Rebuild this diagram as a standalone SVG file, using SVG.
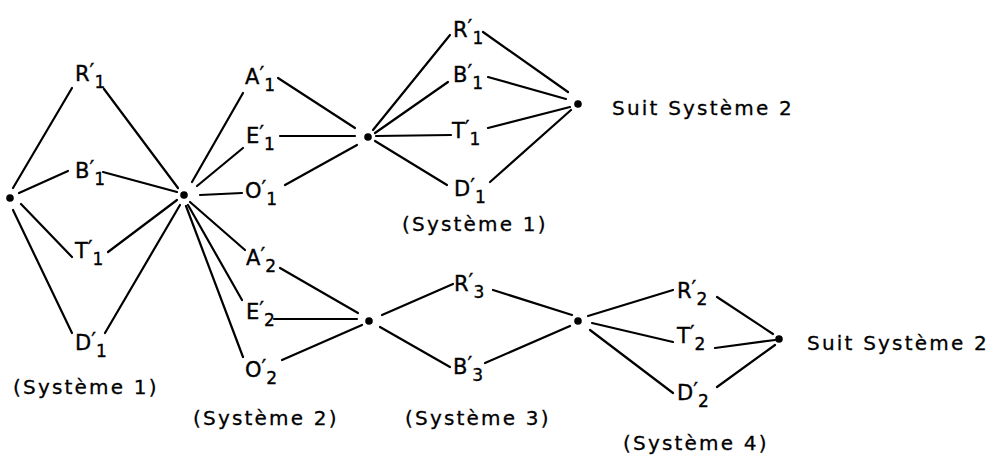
<svg xmlns="http://www.w3.org/2000/svg" width="997" height="461" viewBox="0 0 997 461">
<style>
  .bg{fill:#ffffff}
  .e{stroke:#000;stroke-width:2.2;stroke-linecap:round;fill:none}
  .d{fill:#000}
  .lb{font-family:"DejaVu Sans","Liberation Sans",sans-serif;font-size:21px;fill:#000;stroke:#000;stroke-width:0.35}
  .sb{font-size:17px}
  .cap{font-family:"DejaVu Sans","Liberation Sans",sans-serif;font-size:20px;letter-spacing:2.2px;fill:#000;stroke:#000;stroke-width:0.3}
</style>
<rect class="bg" x="0" y="0" width="997" height="461"/>
<g id="connectors">
  <line class="e" x1="13" y1="188" x2="72" y2="88"/>
  <line class="e" x1="19" y1="193" x2="68" y2="171"/>
  <line class="e" x1="21" y1="204" x2="72" y2="257"/>
  <line class="e" x1="13" y1="210" x2="72" y2="333"/>
  <line class="e" x1="104" y1="89" x2="178" y2="188"/>
  <line class="e" x1="103" y1="172" x2="177" y2="192"/>
  <line class="e" x1="108" y1="252" x2="177" y2="200"/>
  <line class="e" x1="105" y1="333" x2="180" y2="205"/>
  <line class="e" x1="192" y1="182" x2="243" y2="93"/>
  <line class="e" x1="197" y1="186" x2="243" y2="148"/>
  <line class="e" x1="200" y1="195" x2="242" y2="193"/>
  <line class="e" x1="278" y1="78" x2="355" y2="128"/>
  <line class="e" x1="280" y1="136" x2="355" y2="136"/>
  <line class="e" x1="285" y1="185" x2="357" y2="145"/>
  <line class="e" x1="190" y1="202" x2="245" y2="250"/>
  <line class="e" x1="188" y1="205" x2="242" y2="300"/>
  <line class="e" x1="186" y1="206" x2="243" y2="357"/>
  <line class="e" x1="280" y1="268" x2="358" y2="313"/>
  <line class="e" x1="274" y1="319" x2="357" y2="319"/>
  <line class="e" x1="282" y1="360" x2="362" y2="325"/>
  <line class="e" x1="373" y1="130" x2="450" y2="35"/>
  <line class="e" x1="375" y1="133" x2="448" y2="82"/>
  <line class="e" x1="376" y1="136" x2="451" y2="135"/>
  <line class="e" x1="375" y1="141" x2="447" y2="185"/>
  <line class="e" x1="483" y1="32" x2="568" y2="92"/>
  <line class="e" x1="488" y1="77" x2="566" y2="99"/>
  <line class="e" x1="488" y1="128" x2="570" y2="107"/>
  <line class="e" x1="490" y1="182" x2="571" y2="110"/>
  <line class="e" x1="382" y1="315" x2="453" y2="284"/>
  <line class="e" x1="380" y1="327" x2="450" y2="367"/>
  <line class="e" x1="493" y1="290" x2="572" y2="315"/>
  <line class="e" x1="485" y1="363" x2="570" y2="326"/>
  <line class="e" x1="588" y1="316" x2="673" y2="290"/>
  <line class="e" x1="592" y1="323" x2="673" y2="342"/>
  <line class="e" x1="590" y1="330" x2="673" y2="393"/>
  <line class="e" x1="717" y1="297" x2="773" y2="334"/>
  <line class="e" x1="715" y1="348" x2="775" y2="340"/>
  <line class="e" x1="717" y1="387" x2="775" y2="345"/>
</g>
<g id="dot0"><circle class="d" cx="10" cy="198" r="3.8"/></g>
<g id="dot1"><circle class="d" cx="184" cy="195" r="3.8"/></g>
<g id="dot2"><circle class="d" cx="368" cy="137" r="3.8"/></g>
<g id="dot3"><circle class="d" cx="578" cy="104" r="3.8"/></g>
<g id="dot4"><circle class="d" cx="369" cy="321" r="3.8"/></g>
<g id="dot5"><circle class="d" cx="578" cy="321" r="3.8"/></g>
<g id="dot6"><circle class="d" cx="779" cy="339" r="3.8"/></g>

<g id="s1-R1"><text class="lb" x="75" y="81">R<tspan dy="-2">′</tspan><tspan class="sb" dy="9">1</tspan></text></g>
<g id="s1-B1"><text class="lb" x="75" y="178">B<tspan dy="-2">′</tspan><tspan class="sb" dy="9">1</tspan></text></g>
<g id="s1-T1"><text class="lb" x="75" y="258">T<tspan dy="-2">′</tspan><tspan class="sb" dy="9">1</tspan></text></g>
<g id="s1-D1"><text class="lb" x="75" y="350">D<tspan dy="-2">′</tspan><tspan class="sb" dy="9">1</tspan></text></g>

<g id="s2-A1"><text class="lb" x="245" y="84">A<tspan dy="-2">′</tspan><tspan class="sb" dy="9">1</tspan></text></g>
<g id="s2-E1"><text class="lb" x="246" y="143">E<tspan dy="-2">′</tspan><tspan class="sb" dy="9">1</tspan></text></g>
<g id="s2-O1"><text class="lb" x="245" y="198">O<tspan dy="-2">′</tspan><tspan class="sb" dy="9">1</tspan></text></g>
<g id="s2-A2"><text class="lb" x="246" y="265">A<tspan dy="-2">′</tspan><tspan class="sb" dy="9">2</tspan></text></g>
<g id="s2-E2"><text class="lb" x="246" y="319">E<tspan dy="-2">′</tspan><tspan class="sb" dy="9">2</tspan></text></g>
<g id="s2-O2"><text class="lb" x="245" y="377">O<tspan dy="-2">′</tspan><tspan class="sb" dy="9">2</tspan></text></g>

<g id="t1-R1"><text class="lb" x="453" y="37">R<tspan dy="-2">′</tspan><tspan class="sb" dy="9">1</tspan></text></g>
<g id="t1-B1"><text class="lb" x="453" y="82">B<tspan dy="-2">′</tspan><tspan class="sb" dy="9">1</tspan></text></g>
<g id="t1-T1"><text class="lb" x="452" y="138">T<tspan dy="-2">′</tspan><tspan class="sb" dy="9">1</tspan></text></g>
<g id="t1-D1"><text class="lb" x="454" y="196">D<tspan dy="-2">′</tspan><tspan class="sb" dy="9">1</tspan></text></g>

<g id="s3-R3"><text class="lb" x="454" y="291">R<tspan dy="-2">′</tspan><tspan class="sb" dy="9">3</tspan></text></g>
<g id="s3-B3"><text class="lb" x="453" y="374">B<tspan dy="-2">′</tspan><tspan class="sb" dy="9">3</tspan></text></g>

<g id="s4-R2"><text class="lb" x="677" y="298">R<tspan dy="-2">′</tspan><tspan class="sb" dy="9">2</tspan></text></g>
<g id="s4-T2"><text class="lb" x="677" y="343">T<tspan dy="-2">′</tspan><tspan class="sb" dy="9">2</tspan></text></g>
<g id="s4-D2"><text class="lb" x="677" y="400">D<tspan dy="-2">′</tspan><tspan class="sb" dy="9">2</tspan></text></g>

<g id="captions">
  <text class="cap" x="612" y="115">Suit Système 2</text>
  <text class="cap" x="807" y="350">Suit Système 2</text>
  <text class="cap" x="13" y="394">(Système 1)</text>
  <text class="cap" x="402" y="231">(Système 1)</text>
  <text class="cap" x="193" y="425">(Système 2)</text>
  <text class="cap" x="405" y="425">(Système 3)</text>
  <text class="cap" x="623" y="450">(Système 4)</text>
</g>
</svg>
